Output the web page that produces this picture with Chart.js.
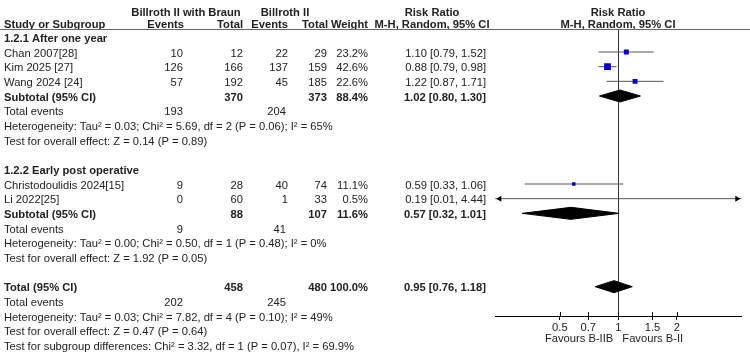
<!DOCTYPE html>
<html>
<head>
<meta charset="utf-8">
<script src="https://cdn.jsdelivr.net/npm/chart.js@4/dist/chart.umd.min.js"></script>
<style>
  html, body { margin: 0; padding: 0; background: #fff; }
  #wrap { width: 750px; height: 353px; }
</style>
</head>
<body>
<div id="wrap"><canvas id="forest" width="750" height="353"></canvas></div>
<script>
// study level data
const groupTitles = ["1.2.1 After one year", "1.2.2 Early post operative"];
const studies = ["Chan 2007[28]", "Kim 2025 [27]", "Wang 2024 [24]", "Christodoulidis 2024[15]", "Li 2022[25]"];
const studyGroup = [0, 0, 0, 1, 1];
const braunEvents = [10, 126, 57, 9, 0];
const braunTotal = [12, 166, 192, 28, 60];
const b2Events = [22, 137, 45, 40, 1];
const b2Total = [29, 159, 185, 74, 33];
const weights = [23.2, 42.6, 22.6, 11.1, 0.5];
const rr = [1.10, 0.88, 1.22, 0.59, 0.19];
const rrLow = [0.79, 0.79, 0.87, 0.33, 0.01];
const rrHigh = [1.52, 0.98, 1.71, 1.06, 4.44];

// subtotals (group 1, group 2) and overall total
const pooledLabels = ["Subtotal (95% CI)", "Subtotal (95% CI)", "Total (95% CI)"];
const pooledBraunTotal = [370, 88, 458];
const pooledB2Total = [373, 107, 480];
const pooledWeight = [88.4, 11.6, 100.0];
const pooledRR = [1.02, 0.57, 0.95];
const pooledLow = [0.80, 0.32, 0.76];
const pooledHigh = [1.30, 1.01, 1.18];
const pooledBraunEvents = [193, 9, 202];
const pooledB2Events = [204, 41, 245];
const tau2 = [0.03, 0.00, 0.03];
const chi2 = [5.69, 0.50, 7.82];
const hetDf = [2, 1, 4];
const hetP = [0.06, 0.48, 0.10];
const i2 = [65, 0, 49];
const zVal = [0.14, 1.92, 0.47];
const zP = [0.89, 0.05, 0.64];
const subgroupTest = "Test for subgroup differences: Chi\u00b2 = 3.32, df = 1 (P = 0.07), I\u00b2 = 69.9%";

const tickVals = [0.5, 0.7, 1, 1.5, 2];
const favourLeft = "Favours B-IIB";
const favourRight = "Favours B-II";

// row layout (row index -> y value)
const studyRow = [], pooledRow = [], titleRow = [], eventsRow = [], hetRow = [], effectRow = [];
let r = 0;
groupTitles.forEach((t, g) => {
  titleRow[g] = r++;
  studies.forEach((s, i) => { if (studyGroup[i] === g) studyRow[i] = r++; });
  pooledRow[g] = r++;
  eventsRow[g] = r++;
  hetRow[g] = r++;
  effectRow[g] = r++;
  r++;
});
pooledRow[2] = r++;
eventsRow[2] = r++;
hetRow[2] = r++;
effectRow[2] = r++;
const subgroupRow = r++;

const FONT = "Liberation Sans, Arial, sans-serif";
const FSIZE = 11.2;
const TXT = "#222";
const xMax = 4.3;
const diamondHalf = 0.41;

const datasets = [];
// confidence interval lines
studies.forEach((s, i) => {
  datasets.push({
    type: "line",
    data: [{x: rrLow[i], y: studyRow[i]}, {x: rrHigh[i], y: studyRow[i]}],
    borderColor: "#555",
    borderWidth: 1,
    pointRadius: 0,
    order: 2
  });
});
// weight squares
datasets.push({
  type: "scatter",
  data: studies.map((s, i) => ({x: rr[i], y: studyRow[i]})),
  pointStyle: "rect",
  pointRadius: weights.map(w => 1.03 * Math.sqrt(w) / Math.SQRT2),
  backgroundColor: "#0000c8",
  borderWidth: 0,
  order: 1
});
// pooled diamonds
pooledRR.forEach((v, k) => {
  const y = pooledRow[k];
  datasets.push({
    type: "line",
    data: [
      {x: pooledLow[k], y: y}, {x: v, y: y - diamondHalf},
      {x: pooledHigh[k], y: y}, {x: v, y: y + diamondHalf},
      {x: pooledLow[k], y: y}
    ],
    fill: "shape",
    backgroundColor: "#000",
    borderColor: "#000",
    borderWidth: 1,
    pointRadius: 0,
    tension: 0,
    order: 0
  });
});

const fmt2 = v => v.toFixed(2);
const ciText = (v, lo, hi) => fmt2(v) + " [" + fmt2(lo) + ", " + fmt2(hi) + "]";

const tablePlugin = {
  id: "table",
  beforeDatasetsDraw(chart) {
    const {ctx, chartArea, scales: {x}} = chart;
    ctx.save();
    // line of no effect
    const x1 = Math.round(x.getPixelForValue(1)) + 0.5;
    ctx.strokeStyle = "#333";
    ctx.lineWidth = 1;
    ctx.beginPath();
    ctx.moveTo(x1, chartArea.top);
    ctx.lineTo(x1, chartArea.bottom);
    ctx.stroke();
    ctx.restore();
  },
  afterDatasetsDraw(chart) {
    const {ctx, chartArea, scales: {x, y}} = chart;
    ctx.save();
    ctx.fillStyle = "#000";
    // arrows for CIs beyond the axis range
    studies.forEach((s, i) => {
      const py = y.getPixelForValue(studyRow[i]);
      if (rrLow[i] < x.min) {
        const px = chartArea.left + 1;
        ctx.beginPath();
        ctx.moveTo(px, py); ctx.lineTo(px + 5, py - 3); ctx.lineTo(px + 5, py + 3);
        ctx.closePath(); ctx.fill();
      }
      if (rrHigh[i] > x.max) {
        const px = chartArea.right - 1;
        ctx.beginPath();
        ctx.moveTo(px, py); ctx.lineTo(px - 5, py - 3); ctx.lineTo(px - 5, py + 3);
        ctx.closePath(); ctx.fill();
      }
    });
    // upper part of tick marks
    ctx.strokeStyle = "#000";
    ctx.lineWidth = 1;
    tickVals.forEach(v => {
      const px = Math.round(x.getPixelForValue(v)) + 0.5;
      ctx.beginPath();
      ctx.moveTo(px, chartArea.bottom - 4);
      ctx.lineTo(px, chartArea.bottom);
      ctx.stroke();
    });
    ctx.restore();
  },
  afterDraw(chart) {
    const {ctx, chartArea, scales: {x, y}} = chart;
    const yp = v => y.getPixelForValue(v);
    const txt = (s, px, py, align, bold) => {
      ctx.font = (bold ? "bold " : "") + FSIZE + "px " + FONT;
      ctx.textAlign = align;
      ctx.fillText(s, px, py + 1.5);
    };
    ctx.save();
    ctx.fillStyle = TXT;
    ctx.textBaseline = "middle";

    // header
    const h1 = yp(-1.78), h2 = yp(-0.98);
    txt("Billroth II with Braun", 186, h1, "center", true);
    txt("Billroth II", 285, h1, "center", true);
    txt("Risk Ratio", 432, h1, "center", true);
    txt("Risk Ratio", 618, h1, "center", true);
    txt("Study or Subgroup", 4, h2, "left", true);
    txt("Events", 184, h2, "right", true);
    txt("Total", 243, h2, "right", true);
    txt("Events", 288, h2, "right", true);
    txt("Total", 328, h2, "right", true);
    txt("Weight", 368, h2, "right", true);
    txt("M-H, Random, 95% CI", 432, h2, "center", true);
    txt("M-H, Random, 95% CI", 618, h2, "center", true);

    ctx.strokeStyle = "#666";
    ctx.lineWidth = 1;
    ctx.beginPath();
    ctx.moveTo(0, chartArea.top - 0.5);
    ctx.lineTo(750, chartArea.top - 0.5);
    ctx.stroke();

    groupTitles.forEach((t, g) => txt(t, 4, yp(titleRow[g]), "left", true));

    studies.forEach((s, i) => {
      const py = yp(studyRow[i]);
      txt(s, 4, py, "left", false);
      txt(String(braunEvents[i]), 183, py, "right", false);
      txt(String(braunTotal[i]), 243, py, "right", false);
      txt(String(b2Events[i]), 288, py, "right", false);
      txt(String(b2Total[i]), 327, py, "right", false);
      txt(weights[i].toFixed(1) + "%", 368, py, "right", false);
      txt(ciText(rr[i], rrLow[i], rrHigh[i]), 486, py, "right", false);
    });

    pooledLabels.forEach((lab, k) => {
      const py = yp(pooledRow[k]);
      txt(lab, 4, py, "left", true);
      txt(String(pooledBraunTotal[k]), 243, py, "right", true);
      txt(String(pooledB2Total[k]), 327, py, "right", true);
      txt(pooledWeight[k].toFixed(1) + "%", 368, py, "right", true);
      txt(ciText(pooledRR[k], pooledLow[k], pooledHigh[k]), 486, py, "right", true);

      const pe = yp(eventsRow[k]);
      txt("Total events", 4, pe, "left", false);
      txt(String(pooledBraunEvents[k]), 183, pe, "right", false);
      txt(String(pooledB2Events[k]), 286, pe, "right", false);

      txt("Heterogeneity: Tau\u00b2 = " + fmt2(tau2[k]) + "; Chi\u00b2 = " + fmt2(chi2[k]) +
          ", df = " + hetDf[k] + " (P = " + fmt2(hetP[k]) + "); I\u00b2 = " + i2[k] + "%",
          4, yp(hetRow[k]), "left", false);
      txt("Test for overall effect: Z = " + fmt2(zVal[k]) + " (P = " + fmt2(zP[k]) + ")",
          4, yp(effectRow[k]), "left", false);
    });
    txt(subgroupTest, 4, yp(subgroupRow), "left", false);

    // favours labels
    const x1 = x.getPixelForValue(1);
    const fy = chartArea.bottom + 21.5;
    txt(favourLeft, x1 - 5, fy, "right", false);
    txt(favourRight, x1 + 4, fy, "left", false);
    ctx.restore();
  }
};

const chart = new Chart(document.getElementById("forest"), {
  data: { datasets: datasets },
  options: {
    responsive: false,
    animation: false,
    events: [],
    layout: { padding: { left: 495.3, right: 8.7, top: 30, bottom: 0 } },
    plugins: { legend: { display: false }, tooltip: { enabled: false } },
    scales: {
      x: {
        type: "logarithmic",
        position: "bottom",
        min: 1 / xMax,
        max: xMax,
        afterBuildTicks: axis => { axis.ticks = tickVals.map(v => ({ value: v })); },
        afterFit: axis => { axis.height = 37; },
        border: { display: true, color: "#000", width: 1 },
        grid: { drawOnChartArea: false, drawTicks: true, tickLength: 4, color: "#000" },
        ticks: {
          autoSkip: false,
          maxRotation: 0,
          padding: 1,
          color: TXT,
          font: { family: FONT, size: FSIZE },
          callback: v => String(v)
        }
      },
      y: {
        type: "linear",
        display: false,
        reverse: true,
        min: -0.5,
        max: 19
      }
    }
  },
  plugins: [tablePlugin]
});
</script>
</body>
</html>
